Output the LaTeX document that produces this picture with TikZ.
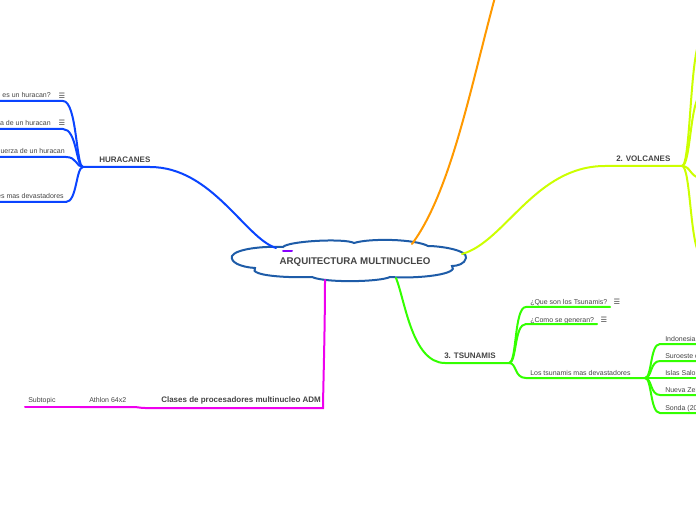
\documentclass[tikz,border=0pt]{standalone}
\usepackage{fontspec}
\setmainfont{Liberation Sans}
\newfontfamily\symfont{DejaVu Sans}
\usepackage{tikz}
\usetikzlibrary{positioning}

\definecolor{txtgray}{HTML}{444444}
\definecolor{cloudblue}{HTML}{1E5CA8}
\definecolor{huraBlue}{HTML}{0A44FF}
\definecolor{volcGreen}{HTML}{CCFF00}
\definecolor{tsunGreen}{HTML}{33FF00}
\definecolor{orangeBr}{HTML}{FF9900}
\definecolor{magBr}{HTML}{EE00EE}
\definecolor{purpleBr}{HTML}{8800FF}

\tikzset{
  rootlabel/.style={font=\bfseries\fontsize{7.3}{8}\selectfont, text=txtgray, inner sep=0pt},
  topic/.style={font=\bfseries\fontsize{6}{7}\selectfont, text=txtgray, inner sep=0pt, anchor=base west},
  leaf/.style={font=\fontsize{5.25}{6}\selectfont, text=txtgray, inner sep=0pt, anchor=base west},
  leafL/.style={leaf, anchor=base east},
  menu/.style={font=\symfont\fontsize{5.5}{6}\selectfont, text=txtgray, inner sep=0pt},
  branch/.style={line width=1.5pt, line cap=round},
}

\begin{document}
\begin{tikzpicture}[x=0.75pt, y=-0.75pt]
\useasboundingbox (0,0) rectangle (696,520);

% ===== ROOT: cloud =====
\draw[cloudblue, line width=1.5pt, fill=white]
  (232,256) .. controls (236,249) and (262,246) .. (283,247)
  .. controls (288,241) and (345,238) .. (354,243)
  .. controls (370,238) and (415,239) .. (428,246)
  .. controls (440,246) and (468,250) .. (466,258)
  .. controls (465,264) and (457,266) .. (452,266)
  .. controls (460,274) and (420,279) .. (390,277)
  .. controls (380,282) and (325,283) .. (312,277)
  .. controls (290,278) and (248,276) .. (255,268)
  .. controls (240,267) and (230,262) .. (232,256) -- cycle;
\node[rootlabel] (root) at (355,262.5) {ARQUITECTURA MULTINUCLEO};

\coordinate (cloudHura) at (276,248);
\coordinate (cloudOrange) at (412,244);
\coordinate (cloudVolc) at (462,254);
\coordinate (cloudTsun) at (396,278);
\coordinate (cloudMag) at (325,280);

% small purple stub
\coordinate (stubA) at (283,251);
\coordinate (stubB) at (292,251);
\draw[branch, purpleBr] (stubA) -- (stubB);

% ===== HURACANES =====
\node[topic] (hura) at (99,163) {HURACANES};
\coordinate (huraHub) at (83,167);
\coordinate (huraEnd) at (150,167);
\draw[branch, huraBlue] (cloudHura) .. controls (245,238) and (212,167) .. (huraEnd) -- (huraHub);

\node[leafL] (h1) at (51,98) {¿Que es un huracan?};
\node[leafL] (h2) at (51,126) {Estructura de un huracan};
\node[leafL] (h3) at (65,154) {Fuerza de un huracan};
\node[leafL] (h4) at (64,199) {Los huracanes mas devastadores};
\node[menu] (h1m) at (62,96) {☰};
\node[menu] (h2m) at (62,123) {☰};

\foreach \y/\e in {101/67, 129/67, 157/70, 202/70} {
  \draw[branch, huraBlue] (huraHub) .. controls (76,167) and (77,\y) .. (\e-4,\y) -- (-10,\y);
}

% ===== ORANGE branch =====
\coordinate (orangeEnd) at (497,-10);
\draw[branch, orangeBr] (cloudOrange) .. controls (452,190) and (472,80) .. (orangeEnd);

% ===== 2. VOLCANES =====
\node[topic] (volc) at (616,162) {2. VOLCANES};
\coordinate (volcHub) at (682,166);
\draw[branch, volcGreen] (cloudVolc) .. controls (505,242) and (535,166) .. (605,166) -- (volcHub);
\foreach \y in {40, 95, 178, 255} {
  \draw[branch, volcGreen] (volcHub) .. controls (691,166) and (690,\y) .. (702,\y);
}

% ===== 3. TSUNAMIS =====
\node[topic] (tsun) at (444,358) {3. TSUNAMIS};
\coordinate (tsunHub) at (509,363);
\draw[branch, tsunGreen] (cloudTsun) .. controls (405,300) and (412,363) .. (445,363) -- (tsunHub);

\node[leaf] (t1) at (530,305) {¿Que son los Tsunamis?};
\node[leaf] (t2) at (530,322) {¿Como se generan?};
\node[leaf] (t3) at (530,375.5) {Los tsunamis mas devastadores};
\node[menu] (t1m) at (617,302) {☰};
\node[menu] (t2m) at (604,320) {☰};

\coordinate (subHub) at (645,378);
\draw[branch, tsunGreen] (tsunHub) .. controls (517,363) and (514,307) .. (526,307) -- (610,307);
\draw[branch, tsunGreen] (tsunHub) .. controls (517,363) and (514,324) .. (526,324) -- (597,324);
\draw[branch, tsunGreen] (tsunHub) .. controls (517,363) and (514,378) .. (526,378) -- (subHub);

\foreach \t/\y in {{Indonesia (2004)}/344, {Suroeste del Pacifico}/361, {Islas Salomon}/378, {Nueva Zelanda}/395, {Sonda (2006)}/413} {
  \node[leaf] at (665,\y-2.5) {\t};
  \draw[branch, tsunGreen] (subHub) .. controls (652,378) and (650,\y) .. (660,\y) -- (710,\y);
}

% ===== Clases de procesadores =====
\node[topic] (clases) at (161,402.5) {Clases de procesadores multinucleo ADM};
\node[leaf] (athlon) at (89,402.5) {Athlon 64x2};
\node[leaf] (subt) at (28,402.5) {Subtopic};
\coordinate (clasesHub) at (323,408);
\coordinate (athlonEnd) at (145,408);
\coordinate (subtEnd) at (80,407);
\draw[branch, magBr] (cloudMag) .. controls (325,330) and (323,395) .. (clasesHub) -- (athlonEnd);
\draw[branch, magBr] (athlonEnd) .. controls (140,408) and (138,407) .. (133,407) -- (subtEnd);
\draw[branch, magBr] (subtEnd) -- (25,407);

\end{tikzpicture}
\end{document}
